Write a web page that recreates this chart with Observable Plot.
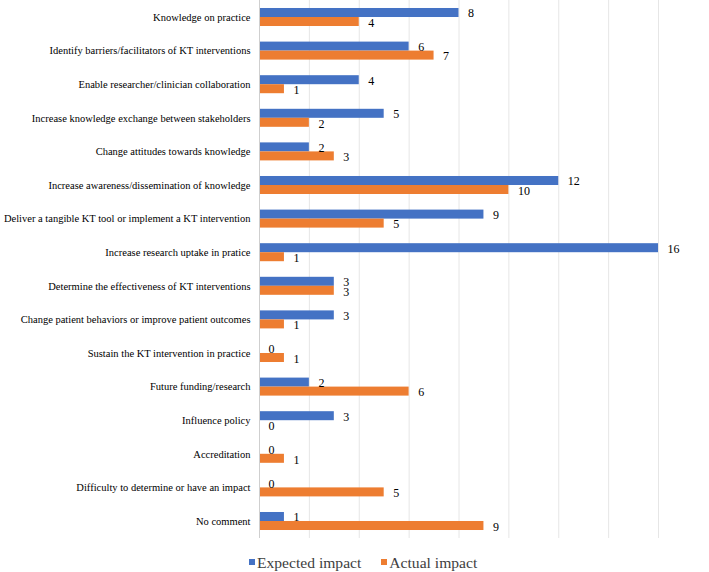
<!DOCTYPE html>
<html>
<head>
<meta charset="utf-8">
<script src="https://cdn.jsdelivr.net/npm/d3@7"></script>
<script src="https://cdn.jsdelivr.net/npm/@observablehq/plot@0.6"></script>
<style>
  body { margin: 0; background: #fff; font-family: "Liberation Serif", "Times New Roman", serif; }
  #chart svg, #chart svg text { font-family: "Liberation Serif", "Times New Roman", serif !important; }
  #legend { display: flex; gap: 20px; font-size: 15.6px; color: #404040; margin-left: 249px; margin-top: 16px; }
  #legend span.sw { display: inline-block; width: 6px; height: 6px; margin-right: 2px; vertical-align: 3px; }
</style>
</head>
<body>
<div id="chart"></div>
<div id="legend"></div>
<script>
const categories = [
  "Knowledge on practice",
  "Identify barriers/facilitators of KT interventions",
  "Enable researcher/clinician collaboration",
  "Increase knowledge exchange between stakeholders",
  "Change attitudes towards knowledge",
  "Increase awareness/dissemination of knowledge",
  "Deliver a tangible KT tool or implement a KT intervention",
  "Increase research uptake in pratice",
  "Determine the effectiveness of KT interventions",
  "Change patient behaviors or improve patient outcomes",
  "Sustain the KT intervention in practice",
  "Future funding/research",
  "Influence policy",
  "Accreditation",
  "Difficulty to determine or have an impact",
  "No comment"
];
const expectedImpact = [8, 6, 4, 5, 2, 12, 9, 16, 3, 3, 0, 2, 3, 0, 0, 1];
const actualImpact   = [4, 7, 1, 2, 3, 10, 5, 1, 3, 1, 1, 6, 0, 1, 5, 9];
const seriesNames = ["Expected impact", "Actual impact"];
const seriesColors = ["#4472C4", "#ED7D31"];
const xTicks = [0, 2, 4, 6, 8, 10, 12, 14, 16];

const expData = categories.map((c, i) => ({category: c, value: expectedImpact[i]}));
const actData = categories.map((c, i) => ({category: c, value: actualImpact[i]}));
const serif = "'Liberation Serif', 'Times New Roman', serif";

const chart = Plot.plot({
  width: 709,
  height: 538,
  marginLeft: 259,
  marginRight: 51,
  marginTop: 0,
  marginBottom: 0,
  style: {fontFamily: serif, background: "#fff", color: "#000"},
  x: {domain: [0, 16], axis: null},
  y: {domain: categories, paddingInner: 0.464, paddingOuter: 0.238, round: false, label: null, axis: null},
  marks: [
    Plot.ruleX(xTicks.filter(t => t > 0), {stroke: "#e6e6e6", strokeWidth: 1}),
    Plot.barX(expData, {x: "value", y: "category", fill: seriesColors[0], insetBottom: 9, insetTop: 0}),
    Plot.barX(actData, {x: "value", y: "category", fill: seriesColors[1], insetTop: 9, insetBottom: 0}),
    Plot.ruleX([0], {stroke: "#cfcfcf", strokeWidth: 1}),
    Plot.text(expData, {x: "value", y: "category", text: d => String(d.value), textAnchor: "start", dx: 9, dy: -4, fontSize: 12, fontFamily: serif, fill: "#000"}),
    Plot.text(actData, {x: "value", y: "category", text: d => String(d.value), textAnchor: "start", dx: 9, dy: 5.5, fontSize: 12, fontFamily: serif, fill: "#000"}),
    Plot.axisY({tickSize: 0, tickPadding: 9, fontSize: 10.5, fontFamily: serif, label: null, fill: "#000"})
  ]
});
document.getElementById("chart").appendChild(chart);

const legend = document.getElementById("legend");
seriesNames.forEach((name, i) => {
  const item = document.createElement("div");
  item.innerHTML = `<span class="sw" style="background:${seriesColors[i]}"></span>${name}`;
  legend.appendChild(item);
});
</script>
</body>
</html>
